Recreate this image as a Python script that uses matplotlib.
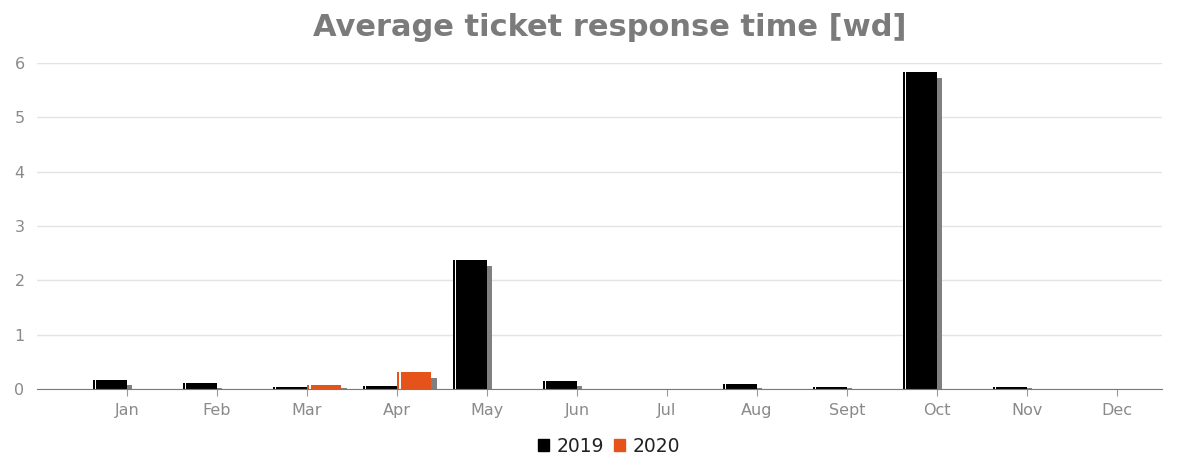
import numpy as np
import matplotlib.pyplot as plt
from matplotlib.patches import Patch

months = ["Jan", "Feb", "Mar", "Apr", "May", "Jun", "Jul", "Aug", "Sept", "Oct", "Nov", "Dec"]
v2019 = [0.17, 0.12, 0.04, 0.06, 2.37, 0.15, 0.0, 0.10, 0.03, 5.83, 0.03, 0.0]
v2020 = [0.0, 0.0, 0.07, 0.31, 0.0, 0.0, 0.0, 0.0, 0.0, 0.0, 0.0, 0.0]
years = ["2019", "2020"]
colors = ["#000000", "#e5531a"]

fig = plt.figure(figsize=(11.8, 4.54), dpi=100)
ax = fig.add_axes([37 / 1180, 0.143, (1162 - 37) / 1180, 0.718])

x = np.arange(len(months))
w = 0.38
dx = 0.06  # shadow shift

for vals, col, side in [(v2019, colors[0], -1), (v2020, colors[1], 0)]:
    vals = np.array(vals)
    left = x + side * w
    # drop shadow
    shadow = np.where(vals > 0, np.maximum(vals - 0.1, 0.02), 0)
    ax.bar(left + dx, shadow, width=w, align="edge", color="#808080", zorder=2)
    ax.bar(left, vals, width=w, align="edge", color=col, zorder=3)
    # thin white gap near the left edge
    ax.bar(left + 0.025, vals, width=0.014, align="edge", color="white", zorder=4)

ax.set_xlim(-1.0, 11.5)
ax.set_ylim(0, 6)
ax.set_xticks(x)
ax.set_xticklabels(months)
ax.set_yticks(range(7))
ax.grid(axis="y", color="#e3e3e3", linewidth=1, zorder=0)
ax.set_axisbelow(True)
for s in ["top", "right", "left"]:
    ax.spines[s].set_visible(False)
ax.spines["bottom"].set_color("#7a7a7a")
ax.spines["bottom"].set_zorder(5)
ax.tick_params(axis="x", colors="#999999", labelsize=11.5, length=5, pad=5, labelcolor="#8a8a8a")
ax.tick_params(axis="y", length=0, pad=9, labelsize=11.5, labelcolor="#8a8a8a")

fig.text(610 / 1180, 1 - 28 / 454, "Average ticket response time [wd]", ha="center", va="center",
         fontsize=22, fontweight="bold", color="#7b7b7b")

handles = [Patch(color=c, label=y) for c, y in zip(colors, years)]
fig.legend(handles=handles, loc="center", bbox_to_anchor=(609 / 1180, 1 - 446 / 454), ncol=2,
           frameon=False, fontsize=13.5, handlelength=0.6, handleheight=0.6, handletextpad=0.4,
           columnspacing=0.5, labelcolor="#222222")

fig.savefig("out.png", dpi=100)
